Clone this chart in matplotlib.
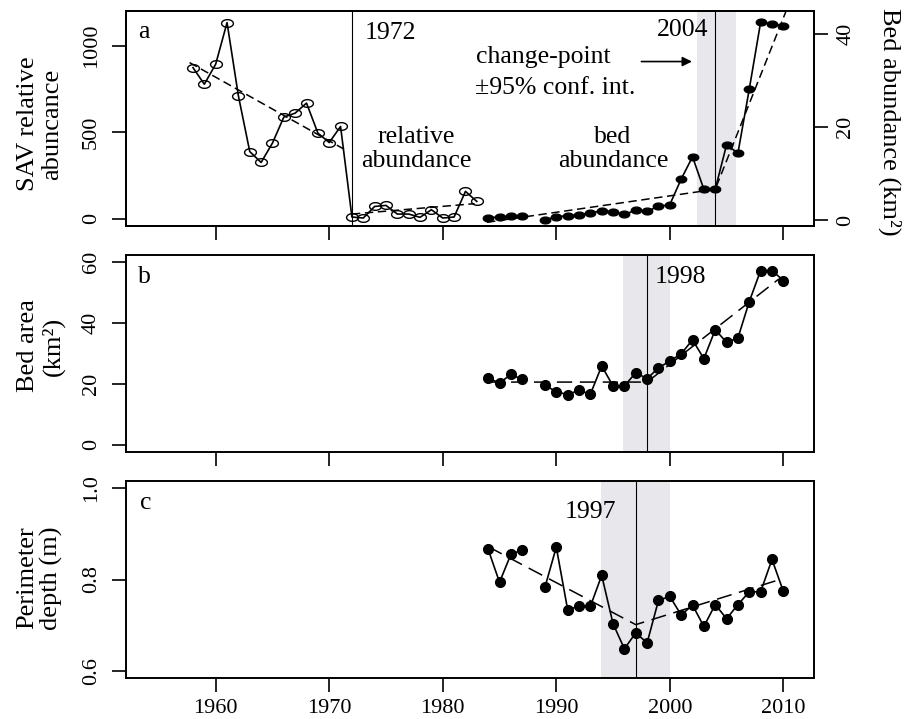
import numpy as np
import matplotlib
matplotlib.use("Agg")
import matplotlib.pyplot as plt
from matplotlib.path import Path

plt.rcParams['font.family'] = ['Liberation Serif', 'DejaVu Serif']

# ---- data ----
rel_years = np.arange(1958, 1984)
rel_vals = [873, 777, 893, 1133, 710, 388, 325, 437, 587, 610, 668, 495, 440, 533,
            10, 4, 71, 77, 27, 27, 8, 52, 4, 10, 158, 100]
rel_trend1_x = [1957.7, 1971.3]
rel_trend1_y = [902, 402]
rel_trend2_x = [1972.0, 1982.8]
rel_trend2_y = [27, 87]

years = np.arange(1984, 2011)   # 1988 missing
bed_abund = [0.5, 0.6, 0.8, 0.9, np.nan, 0.0, 0.7, 0.9, 1.1, 1.5, 2.0, 1.7, 1.2, 2.1,
             1.9, 2.9, 3.3, 8.8, 13.6, 6.6, 6.6, 16.2, 14.4, 28.2, 42.6, 42.2, 41.8]
bed_trend_x = [1983.9, 2004.0, 2010.6]
bed_trend_y = [-0.5, 6.6, 47.2]

bed_area = [21.9, 20.3, 23.1, 21.5, np.nan, 19.6, 17.4, 16.5, 17.9, 16.6, 25.9, 19.3,
            19.3, 23.7, 21.7, 25.3, 27.5, 29.9, 34.5, 28.3, 37.8, 33.7, 35.1, 47.1,
            57.3, 57.3, 54.0]
area_trend_x = [1984.0, 1998.0, 2009.6]
area_trend_y = [20.6, 20.6, 54.5]

perim_depth = [0.866, 0.794, 0.855, 0.865, np.nan, 0.783, 0.871, 0.734, 0.741, 0.741,
               0.809, 0.703, 0.648, 0.683, 0.661, 0.754, 0.763, 0.722, 0.744, 0.697,
               0.745, 0.714, 0.745, 0.773, 0.773, 0.844, 0.774]
depth_trend_x = [1984.0, 1997.0, 2009.7]
depth_trend_y = [0.872, 0.701, 0.800]

# change points and 95% intervals
cp_a, ci_a = 2004, (2002.4, 2005.8)
cp_b, ci_b = 1998, (1995.9, 2000.0)
cp_c, ci_c = 1997, (1993.9, 2000.0)
split_year = 1972

xticks = [1960, 1970, 1980, 1990, 2000, 2010]

# ---- figure ----
W, H = 906, 719
fig = plt.figure(figsize=(W / 100, H / 100), dpi=100)

def box(top, bottom, left=126, right=814):
    return [left / W, 1 - bottom / H, (right - left) / W, (bottom - top) / H]

axa = fig.add_axes(box(11, 226))
axb = fig.add_axes(box(255, 452))
axc = fig.add_axes(box(481, 678))
axr = axa.twinx()

band = '#e8e8ec'
xlim = (1952.1, 2012.7)
t = np.linspace(0, 2 * np.pi, 61)
ell = Path(np.column_stack([np.cos(t), 0.65 * np.sin(t)]))
afs = 18.5   # annotation size

def style(ax):
    for s in ax.spines.values():
        s.set_linewidth(1.4)
    ax.tick_params(direction='out', length=10, width=1.2, labelsize=16, pad=5)
    ax.tick_params(axis='y', pad=8)
    ax.set_xlim(*xlim)
    ax.set_xticks(xticks)

# panel a
axa.axvspan(*ci_a, color=band, lw=0, zorder=0)
axa.axvline(cp_a, color='k', lw=0.8)
axa.axvline(split_year, color='k', lw=0.8)
axa.plot(rel_years, rel_vals, color='k', lw=1.2, marker=ell, ms=8.5,
         mfc='none', mec='k', mew=1.0)
axa.plot(rel_trend1_x, rel_trend1_y, color='k', lw=1.1, dashes=(5.5, 3))
axa.plot(rel_trend2_x, rel_trend2_y, color='k', lw=1.1, dashes=(5.5, 3))
axa.set_ylim(-42, 1200)
axa.set_yticks([0, 500, 1000])
style(axa)
axa.tick_params(labelbottom=False)

axr.plot(years, bed_abund, color='k', lw=1.2, marker=ell, ms=7.5, mfc='k', mec='k')
axr.plot(bed_trend_x, bed_trend_y, color='k', lw=1.1, dashes=(5.5, 3))
axr.set_ylim(-1.3, 45)
axr.set_yticks([0, 20, 40])
style(axr)
axr.tick_params(axis='y', pad=6)
axr.tick_params(labelbottom=False)

axa.text(0.0174, 0.902, 'a', transform=axa.transAxes, fontsize=afs, va='center')
axa.text(1973.15, 1073, '1972', fontsize=afs, va='center', ha='left')
axa.text(2003.37, 1090, '2004', fontsize=afs, va='center', ha='right')
axa.text(1982.9, 935, 'change-point', fontsize=afs, va='center', ha='left')
axa.text(1982.85, 756, '\u00b195% conf. int.', fontsize=afs, va='center', ha='left')
axa.annotate('', xy=(2001.95, 908), xytext=(1997.5, 908),
             arrowprops=dict(arrowstyle='-|>', color='k', lw=1.2,
                             mutation_scale=14, shrinkA=0, shrinkB=0))
axa.text(1977.65, 404, 'relative\nabundance', fontsize=afs, va='center', ha='center',
         linespacing=1.1)
axa.text(1995.0, 404, 'bed\nabundance', fontsize=afs, va='center', ha='center',
         linespacing=1.1)

# panel b
axb.axvspan(*ci_b, color=band, lw=0, zorder=0)
axb.axvline(cp_b, color='k', lw=0.8)
axb.plot(years, bed_area, color='k', lw=1.2, marker='o', ms=7, mfc='k')
axb.plot(area_trend_x, area_trend_y, color='k', lw=1.1, dashes=(10, 5))
axb.set_ylim(-2.4, 62.4)
axb.set_yticks([0, 20, 40, 60])
style(axb)
axb.tick_params(labelbottom=False)
axb.text(0.0174, 0.888, 'b', transform=axb.transAxes, fontsize=afs, va='center')
axb.text(1998.7, 55.0, '1998', fontsize=afs, va='center', ha='left')

# panel c
axc.axvspan(*ci_c, color=band, lw=0, zorder=0)
axc.axvline(cp_c, color='k', lw=0.8)
axc.plot(years, perim_depth, color='k', lw=1.2, marker='o', ms=7, mfc='k')
axc.plot(depth_trend_x, depth_trend_y, color='k', lw=1.1, dashes=(10, 5))
axc.set_ylim(0.584, 1.016)
axc.set_yticks([0.6, 0.8, 1.0])
axc.set_yticklabels(['0.6', '0.8', '1.0'])
style(axc)
axc.text(0.02, 0.888, 'c', transform=axc.transAxes, fontsize=afs, va='center')
axc.text(1995.25, 0.947, '1997', fontsize=afs, va='center', ha='right')

for ax in (axa, axb, axc):
    plt.setp(ax.get_yticklabels(), rotation=90, va='center')
plt.setp(axr.get_yticklabels(), rotation=90, va='center')

# axis titles
fs = 19
fig.text(40 / W, 1 - 124 / H, 'SAV relative\nabuncance', rotation=90, fontsize=fs,
         ha='center', va='center', linespacing=1.1)
fig.text(41 / W, 1 - 346 / H, 'Bed area\n(km\u00b2)', rotation=90, fontsize=fs,
         ha='center', va='center', linespacing=1.1)
fig.text(40 / W, 1 - 578 / H, 'Perimeter\ndepth (m)', rotation=90, fontsize=fs,
         ha='center', va='center', linespacing=1.1)
fig.text(890 / W, 1 - 122 / H, 'Bed abundance (km\u00b2)', rotation=-90, fontsize=fs,
         ha='center', va='center')

fig.savefig('out.png', dpi=100)
